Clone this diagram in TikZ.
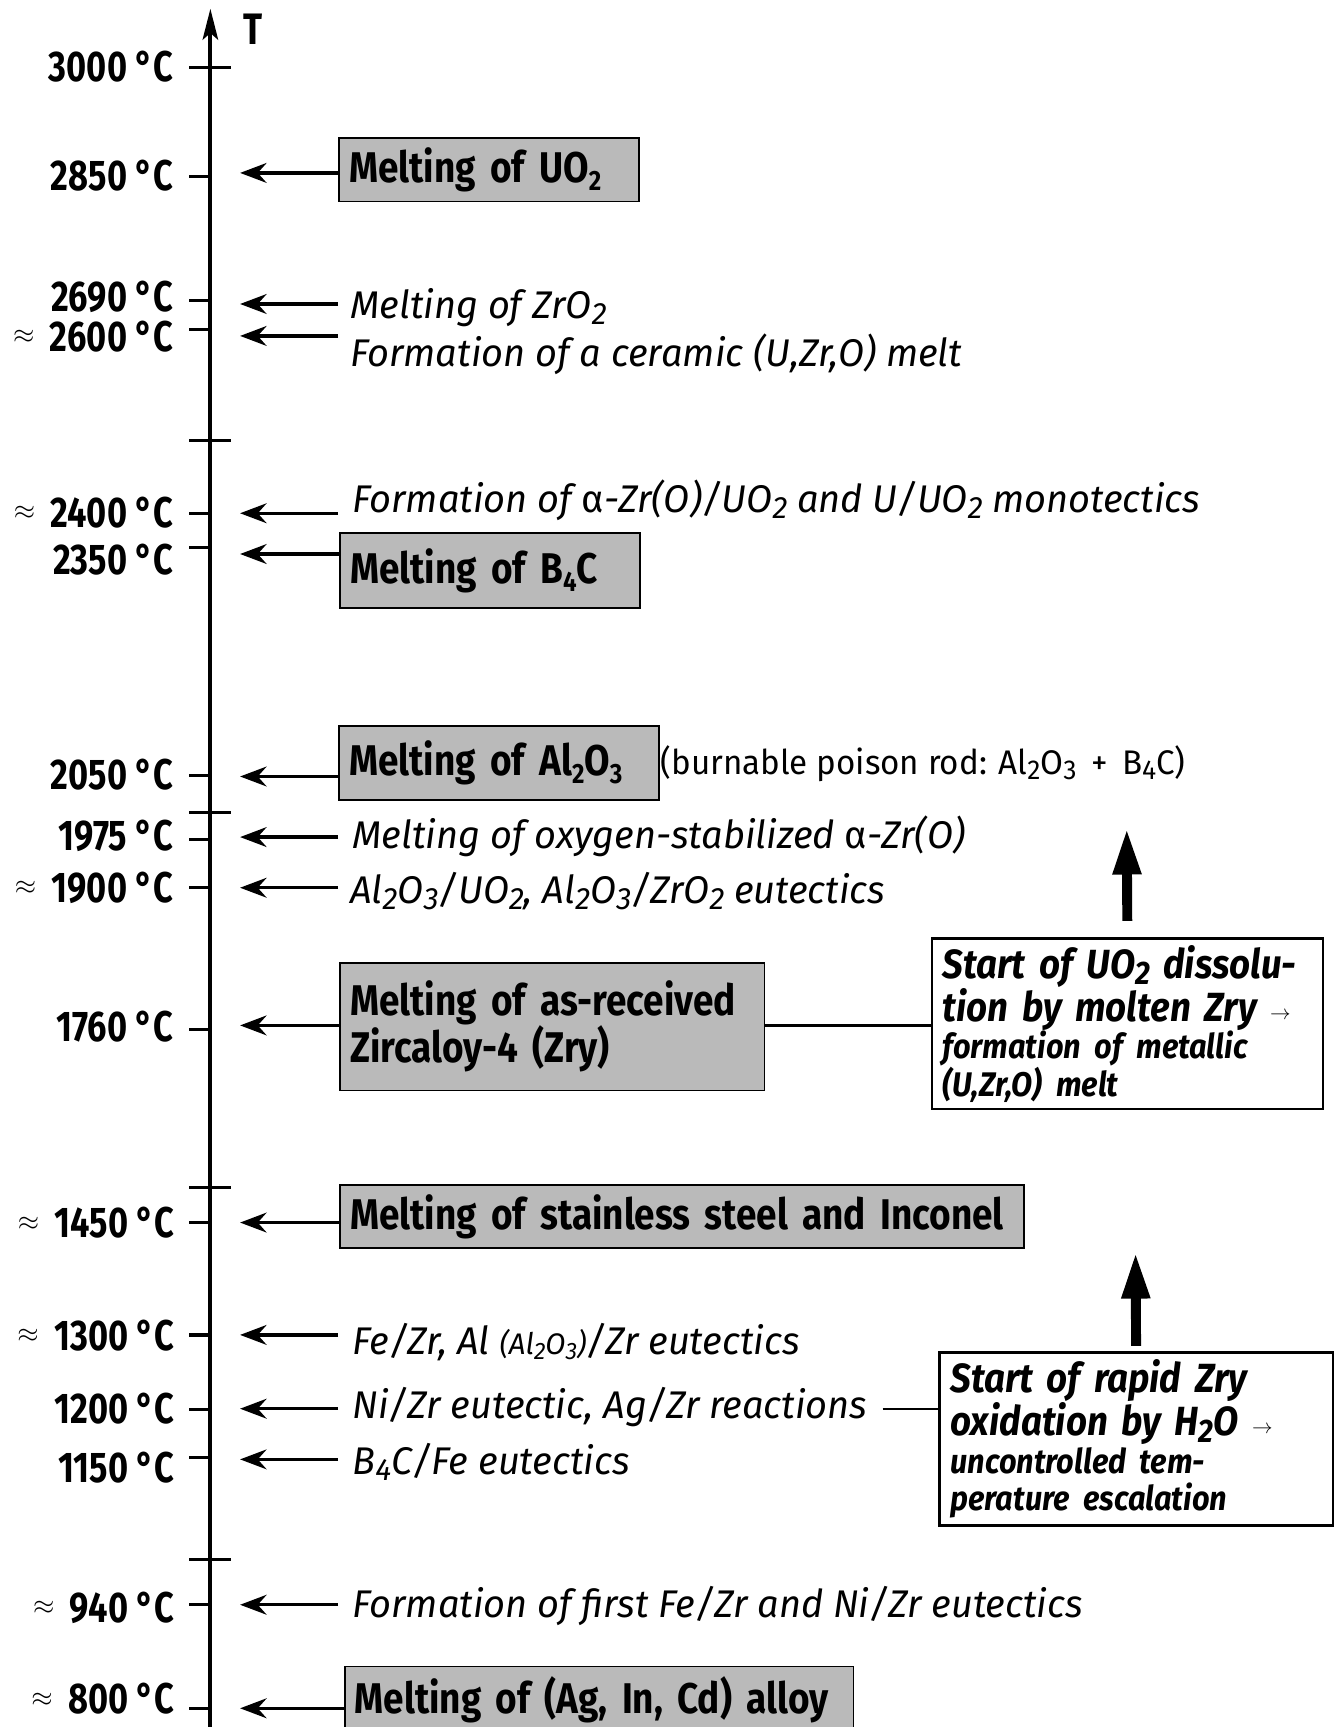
\documentclass[tikz,border=0pt]{standalone}
\usepackage{fontspec}
\usepackage{graphicx}
\usetikzlibrary{arrows.meta}
\setmainfont{Fira Sans}
\newfontfamily\condf{Fira Sans}[FakeStretch=0.8]
\newfontfamily\boxf{Fira Sans}[FakeStretch=0.86, WordSpace=0.7]
\newfontfamily\notef{Fira Sans}[FakeStretch=0.9, WordSpace=0.8]
\newfontfamily\italf{Fira Sans}[FakeStretch=0.985]
\newfontfamily\regf{Fira Sans}[FakeStretch=0.97]
\newcommand\dn[1]{\raisebox{-0.3ex}{\scalebox{0.8}{#1}}}
\newcommand\dnb[1]{\raisebox{-0.35ex}{\scalebox{0.65}{#1}}}
\newcommand\apx{\raisebox{7pt}{\fontsize{24}{24}\selectfont$\approx$}\hspace{14pt}}
\newcommand\smarr{\raisebox{0.1ex}{\scalebox{0.75}{$\rightarrow$}}}
\begin{document}
\begin{tikzpicture}[x=1pt,y=-1pt,
 every node/.style={inner sep=0pt, outer sep=0pt},
 tmp/.style={anchor=base east, font=\condf\bfseries\fontsize{39}{40}\selectfont},
 itx/.style={anchor=base west, font=\italf\itshape\fontsize{35}{40}\selectfont},
 rgx/.style={anchor=base west, font=\regf\fontsize{31}{36}\selectfont},
 gbox/.style={draw, line width=1.6pt, fill=black!27, anchor=north west, inner xsep=9pt, align=left, font=\boxf\bfseries\fontsize{39}{42}\selectfont},
 wbox/.style={draw, line width=2.2pt, fill=white, anchor=north west, inner xsep=10pt, align=left, font=\notef\bfseries\itshape\fontsize{37}{34}\selectfont},
 sarr/.style={line width=3pt, -{Stealth[length=24pt,width=18pt,inset=8pt]}},
 tmk/.style={line width=3pt},
 axl/.style={line width=3.5pt, -{Stealth[length=28pt,width=14pt,inset=6pt]}},
 ln/.style={line width=2pt},
 bigarr/.style={line width=9pt, -{Triangle[length=42pt,width=24pt]}}
]
\useasboundingbox (0,0) rectangle (1213,1568);
\fill[white] (0,0) rectangle (1213,1568);

% axis
\coordinate (axB) at (191,1580);
\coordinate (axT) at (191,8);
\draw[axl] (axB) -- (axT);
\node[anchor=base west, font=\condf\bfseries\fontsize{40}{40}\selectfont] (T) at (221,40) {T};

% major ticks
\foreach \n/\y in {m3000/61, m1/400, m2/738, m3/1078, m4/1416}{
  \coordinate (\n) at (191,\y);
  \draw[tmk] ([xshift=-19pt]\n) -- ([xshift=19pt]\n);
}
% minor ticks
\foreach \n/\y in {k2850/160, k2690/273, k2600/299, k2400/466, k2350/497, k2050/704, k1975/762, k1900/806, k1760/935, k1450/1110, k1300/1212, k1200/1280, k1150/1323, k940/1457, k800/1551}{
  \coordinate (\n) at (191,\y);
  \draw[tmk] (\n) -- ([xshift=-19pt]\n);
}

% temperature labels
\node[tmp] (l3000) at (157,74) {3000 °C};
\node[tmp] (l2850) at (157,173) {2850 °C};
\node[tmp] (l2690) at (157,283) {2690 °C};
\node[tmp] (l2600) at (157,319) {\apx2600 °C};
\node[tmp] (l2400) at (157,479) {\apx2400 °C};
\node[tmp] (l2350) at (157,522) {2350 °C};
\node[tmp] (l2050) at (157,717) {2050 °C};
\node[tmp] (l1975) at (157,772) {1975 °C};
\node[tmp] (l1900) at (157,819) {\apx1900 °C};
\node[tmp] (l1760) at (157,946) {1760 °C};
\node[tmp] (l1450) at (158,1124) {\apx1450 °C};
\node[tmp] (l1300) at (158,1226) {\apx1300 °C};
\node[tmp] (l1200) at (158,1292) {1200 °C};
\node[tmp] (l1150) at (158,1346) {1150 °C};
\node[tmp] (l940) at (158,1473) {\apx940 °C};
\node[tmp] (l800) at (158,1556) {\apx800 °C};

% arrow end points (tips near axis)
\foreach \n/\y in {e2850/157, e2690/276, e2600/305, e2400/466, e2350/503, e2050/705, e1975/760, e1900/806, e1760/931, e1450/1110, e1300/1212, e1200/1279, e1150/1325, e940/1457, e800/1551}{
  \coordinate (\n) at (218,\y);
}
% arrow start points for plain texts
\foreach \n/\y in {s2690/276, s2600/305, s2400/466, s1975/760, s1900/806, s1300/1212, s1200/1279, s1150/1325, s940/1457}{
  \coordinate (\n) at (307,\y);
}

% grey boxes
\node[gbox, text width=254pt, minimum height=58pt] (b2850) at (308,125) {\mbox{Melting of UO\dnb{2}}};
\node[gbox, text width=254pt, minimum height=68pt] (b2350) at (309,484) {\mbox{Melting of B\dnb{4}C}};
\node[gbox, text width=272pt, minimum height=67pt] (b2050) at (308,659) {\mbox{Melting of Al\dnb{2}O\dnb{3}}};
\node[gbox, text width=367pt, minimum height=116pt] (b1760) at (309,874) {\mbox{Melting of as-received}\\\mbox{Zircaloy-4 (Zry)}};
\node[gbox, text width=603pt, minimum height=57pt] (b1450) at (309,1076) {\mbox{Melting of stainless steel and Inconel}};
\node[gbox, text width=444pt, minimum height=60pt] (b800) at (313,1513) {\mbox{Melting of (Ag, In, Cd) alloy}};

% italic texts
\node[itx] (t2690) at (318,289) {Melting of ZrO\dn{2}};
\node[itx] (t2600) at (318,333) {Formation of a ceramic (U,Zr,O) melt};
\node[itx] (t2400) at (320,465) {Formation of {\upshape α}-Zr(O)/UO\dn{2} and U/UO\dn{2} monotectics};
\node[rgx] (burn) at (600,703) {(burnable poison rod: Al\dn{2}O\dn{3} \,+\, B\dn{4}C)};
\node[itx] (t1975) at (320,770) {Melting of oxygen-stabilized {\upshape α}-Zr(O)};
\node[itx] (t1900) at (318,820) {Al\dn{2}O\dn{3}/UO\dn{2}, Al\dn{2}O\dn{3}/ZrO\dn{2} eutectics};
\node[itx] (t1300) at (320,1230) {Fe/Zr, Al {\fontsize{27}{30}\selectfont (Al\dn{2}O\dn{3})}/Zr eutectics};
\node[itx] (t1200) at (320,1288) {Ni/Zr eutectic, Ag/Zr reactions};
\node[itx] (t1150) at (320,1339) {B\dn{4}C/Fe eutectics};
\node[itx] (t940) at (320,1469) {Formation of first Fe/Zr and Ni/Zr eutectics};

% white boxes
\node[wbox, text width=335pt, minimum height=155pt] (rb1) at (846,852)
 {\mbox{Start of UO\dn{2} dissolu-}\\\mbox{tion by molten Zry \smarr}\\{\fontsize{31}{34}\selectfont\mbox{formation of metallic}\\\mbox{(U,Zr,O) melt}}};
\node[wbox, text width=337pt, minimum height=157pt] (rb2) at (853,1228)
 {\mbox{Start of rapid Zry}\\\mbox{oxidation by H\dn{2}O \smarr}\\{\fontsize{31}{34}\selectfont\mbox{uncontrolled tem-}\\\mbox{perature escalation}}};

% arrows to axis
\draw[sarr] (b2850.west |- e2850) -- (e2850);
\draw[sarr] (s2690) -- (e2690);
\draw[sarr] (s2600) -- (e2600);
\draw[sarr] (s2400) -- (e2400);
\draw[sarr] (b2350.west |- e2350) -- (e2350);
\draw[sarr] (b2050.west |- e2050) -- (e2050);
\draw[sarr] (s1975) -- (e1975);
\draw[sarr] (s1900) -- (e1900);
\draw[sarr] (b1760.west |- e1760) -- (e1760);
\draw[sarr] (b1450.west |- e1450) -- (e1450);
\draw[sarr] (s1300) -- (e1300);
\draw[sarr] (s1200) -- (e1200);
\draw[sarr] (s1150) -- (e1150);
\draw[sarr] (s940) -- (e940);
\draw[sarr] (b800.west |- e800) -- (e800);

% connectors to white boxes
\draw[ln] (b1760.east |- e1760) -- (e1760 -| rb1.west);
\coordinate (c1200) at ([xshift=14pt]t1200.east |- e1200);
\draw[ln] (c1200) -- (c1200 -| rb2.west);

% thick up arrows
\coordinate (u1) at (1023,752);
\draw[bigarr] ([yshift=16pt]rb1.north) -- (u1);
\coordinate (u2) at (1031,1137);
\draw[bigarr] ([yshift=6pt]rb2.north) -- (u2);
\end{tikzpicture}
\end{document}
